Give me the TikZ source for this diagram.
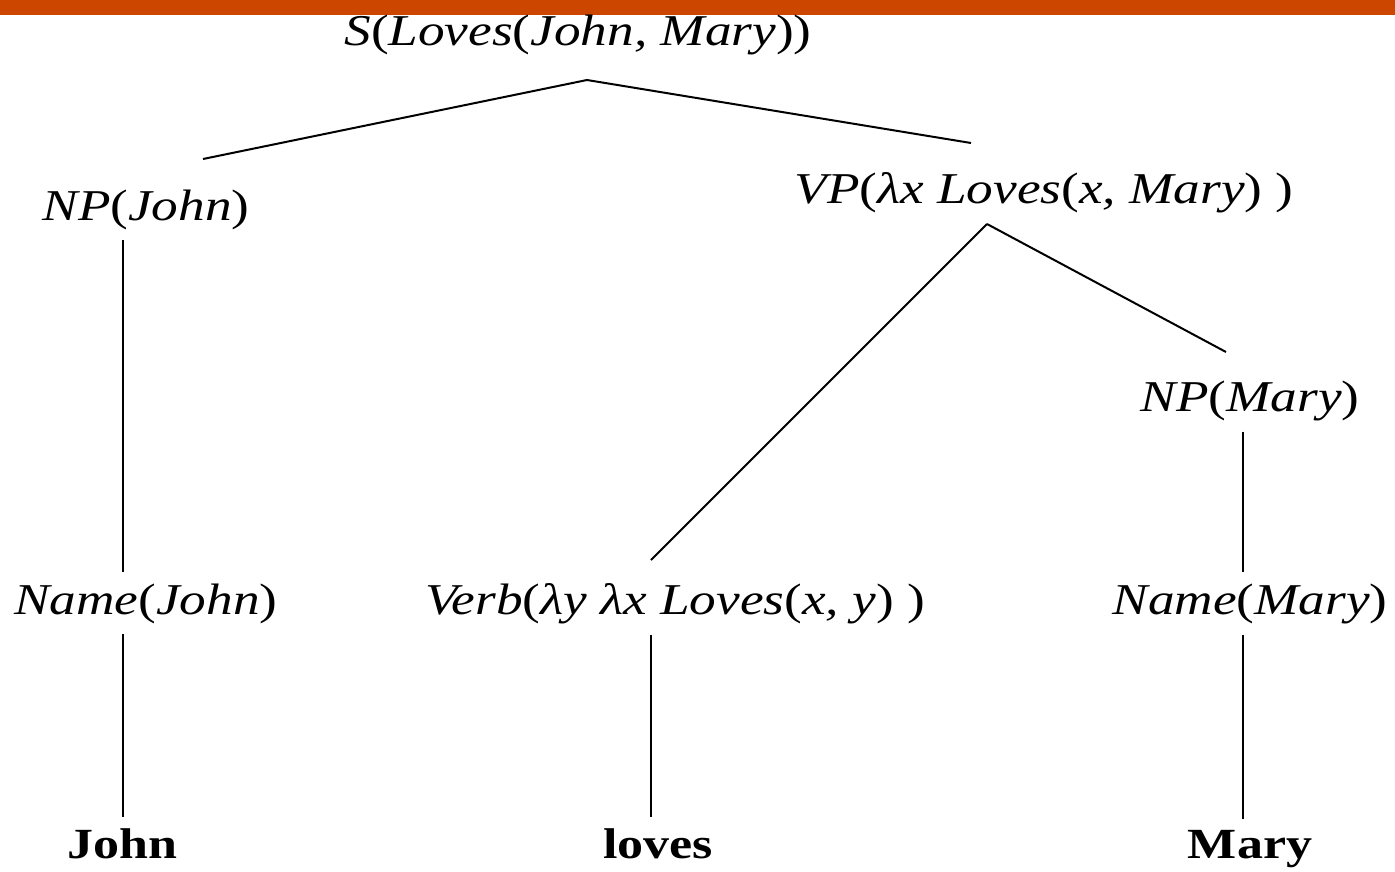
\documentclass[tikz,border=0pt]{standalone}
\usepackage{fontspec}
\setmainfont{Liberation Serif}[FakeStretch=1.21]
\definecolor{barorange}{RGB}{204,70,0}
\tikzset{every picture/.style={line width=2pt}}
\tikzset{
label node/.style={anchor=base, inner sep=0pt, outer sep=11pt, font=\fontsize{44}{52}\selectfont},
word node/.style={label node, font=\fontsize{43}{52}\selectfont\bfseries}}

\begin{document}
\begin{tikzpicture}[x=1pt,y=-1pt]
\useasboundingbox (0,0) rectangle (1395,871);

%Shape: Rectangle [bar]
\fill [barorange] (0,0) rectangle (1395,15);

% Text Node
\node [label node] (s) at (578,45) {\textit{S}(\textit{Loves}(\textit{John, Mary}))};
% Text Node
\node [label node] (npj) at (146,220) {\textit{NP}(\textit{John})};
% Text Node
\node [label node] (vp) at (1044,203) {\textit{VP}(\textit{λx Loves}(\textit{x, Mary}) )};
% Text Node
\node [label node] (npm) at (1250,411) {\textit{NP}(\textit{Mary})};
% Text Node
\node [label node] (namej) at (146,614) {\textit{Name}(\textit{John})};
% Text Node
\node [label node] (verb) at (675,614) {\textit{Verb}(\textit{λy λx Loves}(\textit{x, y}) )};
% Text Node
\node [label node] (namem) at (1250,614) {\textit{Name}(\textit{Mary})};
% Text Node
\node [word node] (john) at (122,858) {John};
% Text Node
\node [word node] (loves) at (658,858) {loves};
% Text Node
\node [word node] (mary) at (1250,858) {Mary};

%Branch points
\coordinate (s-fork) at (587,80);
\coordinate (npj-in) at (203,159);
\coordinate (vp-in) at (971,143);
\coordinate (vp-fork) at (987,224);
\coordinate (verb-in) at (651,560);
\coordinate (npm-in) at (1226,352);
\coordinate (jaxis) at (123,0);
\coordinate (vaxis) at (651,0);
\coordinate (maxis) at (1243,0);

%Straight Lines
\draw (s-fork) -- (npj-in);
\draw (s-fork) -- (vp-in);
\draw (vp-fork) -- (verb-in);
\draw (vp-fork) -- (npm-in);
\draw (npj.south -| jaxis) -- (namej.north -| jaxis);
\draw (namej.south -| jaxis) -- (john.north -| jaxis);
\draw (verb.south -| vaxis) -- (loves.north -| vaxis);
\draw (npm.south -| maxis) -- (namem.north -| maxis);
\draw (namem.south -| maxis) -- (mary.north -| maxis);

\end{tikzpicture}
\end{document}
